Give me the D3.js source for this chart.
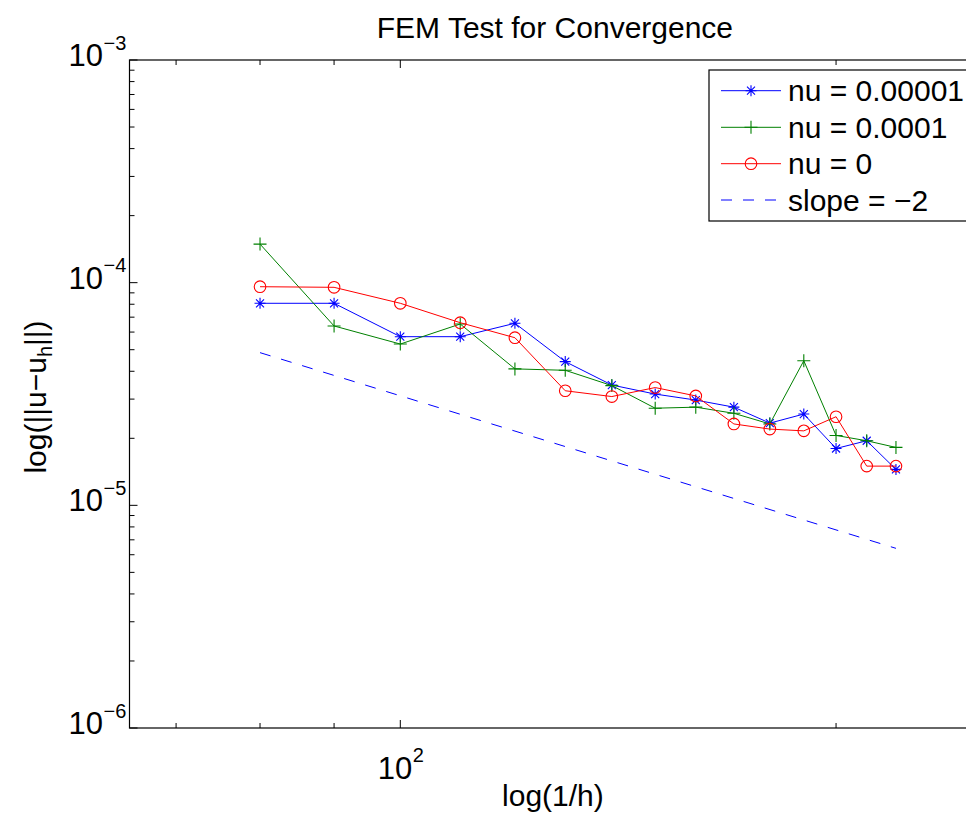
<!DOCTYPE html>
<html>
<head>
<meta charset="utf-8">
<script src="https://cdn.jsdelivr.net/npm/d3@7"></script>
<style>
  html, body { margin: 0; padding: 0; background: #fff; overflow: hidden; }
  svg { display: block; }
  text { font-family: "Liberation Sans", Arial, Helvetica, sans-serif; fill: #000; }
</style>
</head>
<body>
<svg id="chart" width="966" height="815"></svg>
<script>
// ---- data ----
const hInv = [80, 90, 100, 110, 120, 130, 140, 150, 160, 170, 180, 190, 200, 210, 220];
const errNu1e5 = [8.08e-5, 8.08e-5, 5.72e-5, 5.72e-5, 6.57e-5, 4.42e-5, 3.47e-5, 3.16e-5, 2.97e-5, 2.76e-5, 2.34e-5, 2.57e-5, 1.80e-5, 1.95e-5, 1.45e-5];
const errNu1e4 = [1.49e-4, 6.39e-5, 5.30e-5, 6.52e-5, 4.10e-5, 4.04e-5, 3.45e-5, 2.73e-5, 2.76e-5, 2.59e-5, 2.32e-5, 4.46e-5, 2.06e-5, 1.95e-5, 1.82e-5];
const errNu0   = [9.59e-5, 9.53e-5, 8.08e-5, 6.61e-5, 5.66e-5, 3.27e-5, 3.08e-5, 3.38e-5, 3.10e-5, 2.32e-5, 2.20e-5, 2.16e-5, 2.50e-5, 1.50e-5, 1.50e-5];
const slopeX = [80, 220];
const slopeY = [4.85e-5, 6.41e-6];
const seriesNames = ["nu = 0.00001", "nu = 0.0001", "nu = 0", "slope = \u22122"];
const seriesColors = ["#0000ff", "#008000", "#ff0000", "#0000ff"];
const seriesMarkers = ["star", "plus", "circle", "none"];
const xDomain = [65, 250];
const yDomain = [1e-6, 1e-3];
const xMajorTicks = [100];
const xMinorTicks = [70, 80, 90, 200];
const yMajorExp = [-3, -4, -5, -6];
const titleText = "FEM Test for Convergence";
const xLabelText = "log(1/h)";

// ---- layout ----
const svg = d3.select("#chart");
const L = 129.5, T = 60, B = 728;
const pxPerDecade = 1447.5;
const R = L + pxPerDecade * Math.log10(xDomain[1] / xDomain[0]);
const x = d3.scaleLog().domain(xDomain).range([L, R]);
const y = d3.scaleLog().domain(yDomain).range([B, T]);
const FS = 30, TFS = 31, SFS = 20, SX = 1.0;

function stext(g, px, py, anchor, size, rot) {
  const t = g.append("text")
    .attr("transform", `translate(${px},${py})` + (rot ? ` rotate(${rot})` : "") + ` scale(${SX},1)`)
    .attr("text-anchor", anchor)
    .style("font-size", size + "px");
  return t;
}

const data = [errNu1e5, errNu1e4, errNu0].map((vals, i) =>
  hInv.map((h, j) => ({ x: h, y: vals[j] })));
const slopeData = slopeX.map((h, j) => ({ x: h, y: slopeY[j] }));

svg.append("defs").append("clipPath").attr("id", "clip")
  .append("rect").attr("x", L).attr("y", T).attr("width", R - L).attr("height", B - T);

// ---- axes box ----
const axG = svg.append("g");
axG.append("rect").attr("x", L).attr("y", T).attr("width", R - L).attr("height", B - T)
  .attr("fill", "none").attr("stroke", "#000").attr("stroke-width", 1.2);

const xTickG = axG.append("g").attr("stroke", "#000").attr("stroke-width", 1);
xMajorTicks.forEach(v => {
  xTickG.append("line").attr("x1", x(v)).attr("x2", x(v)).attr("y1", B).attr("y2", B - 8);
  xTickG.append("line").attr("x1", x(v)).attr("x2", x(v)).attr("y1", T).attr("y2", T + 8);
});
xMinorTicks.forEach(v => {
  xTickG.append("line").attr("x1", x(v)).attr("x2", x(v)).attr("y1", B).attr("y2", B - 5);
  xTickG.append("line").attr("x1", x(v)).attr("x2", x(v)).attr("y1", T).attr("y2", T + 5);
});
const yTickG = axG.append("g").attr("stroke", "#000").attr("stroke-width", 1);
yMajorExp.forEach(e => {
  const v = Math.pow(10, e);
  yTickG.append("line").attr("x1", L).attr("x2", L + 8).attr("y1", y(v)).attr("y2", y(v));
  yTickG.append("line").attr("x1", R).attr("x2", R - 8).attr("y1", y(v)).attr("y2", y(v));
  if (e < -3) {
    for (let k = 2; k <= 9; k++) {
      const vv = k * v;
      yTickG.append("line").attr("x1", L).attr("x2", L + 5).attr("y1", y(vv)).attr("y2", y(vv));
      yTickG.append("line").attr("x1", R).attr("x2", R - 5).attr("y1", y(vv)).attr("y2", y(vv));
    }
  }
});

// y tick labels
yMajorExp.forEach(e => {
  const yy = y(Math.pow(10, e));
  stext(svg, 103, yy + 6, "end", TFS).text("10");
  stext(svg, 103.5, yy - 10.5, "start", SFS).text("\u2212" + Math.abs(e));
});
// x tick labels
xMajorTicks.forEach(v => {
  const e = Math.round(Math.log10(v));
  stext(svg, x(v) + 12, 779, "end", TFS).text("10");
  stext(svg, x(v) + 12.5, 762, "start", SFS).text(String(e));
});

// title and labels
stext(svg, (L + R) / 2 + 2, 38, "middle", FS).text(titleText);
stext(svg, (L + R) / 2, 806, "middle", FS).text(xLabelText);
const yl = stext(svg, 46, (T + B) / 2 + 3, "middle", FS, -90);
yl.append("tspan").text("log(||u\u2212u");
yl.append("tspan").attr("dy", 6).style("font-size", SFS + "px").text("h");
yl.append("tspan").attr("dy", -6).text("||)");

// ---- series ----
const plotG = svg.append("g").attr("clip-path", "url(#clip)");
const line = d3.line().x(d => x(d.x)).y(d => y(d.y));

function drawMarker(g, type, cx, cy, color) {
  if (type === "star") {
    const a = 5.5, b = 4;
    g.append("path").attr("d",
      `M${cx - a},${cy}L${cx + a},${cy}M${cx},${cy - a}L${cx},${cy + a}` +
      `M${cx - b},${cy - b}L${cx + b},${cy + b}M${cx - b},${cy + b}L${cx + b},${cy - b}`)
      .attr("stroke", color).attr("stroke-width", 1.1).attr("fill", "none");
  } else if (type === "plus") {
    const a = 6.5;
    g.append("path").attr("d",
      `M${cx - a},${cy}L${cx + a},${cy}M${cx},${cy - a}L${cx},${cy + a}`)
      .attr("stroke", color).attr("stroke-width", 1.1).attr("fill", "none");
  } else if (type === "circle") {
    g.append("circle").attr("cx", cx).attr("cy", cy).attr("r", 5.8)
      .attr("stroke", color).attr("stroke-width", 1.1).attr("fill", "none");
  }
}

plotG.append("path").datum(slopeData).attr("d", line)
  .attr("fill", "none").attr("stroke", seriesColors[3]).attr("stroke-width", 1)
  .attr("stroke-dasharray", "11,11");

data.forEach((pts, i) => {
  plotG.append("path").datum(pts).attr("d", line)
    .attr("fill", "none").attr("stroke", seriesColors[i]).attr("stroke-width", 1);
  const mg = plotG.append("g");
  pts.forEach(p => drawMarker(mg, seriesMarkers[i], x(p.x), y(p.y), seriesColors[i]));
});

// ---- legend ----
const lg = svg.append("g");
const lgX = 709, lgY = 70, lgW = 270, lgH = 151;
lg.append("rect").attr("x", lgX).attr("y", lgY).attr("width", lgW).attr("height", lgH)
  .attr("fill", "#fff").attr("stroke", "#000").attr("stroke-width", 1.2);
const rowY = [90.7, 127.3, 163.7, 200];
seriesNames.forEach((name, i) => {
  const ry = rowY[i];
  const ln = lg.append("line").attr("x1", 721).attr("x2", 781).attr("y1", ry).attr("y2", ry)
    .attr("stroke", seriesColors[i]).attr("stroke-width", 1);
  if (i === 3) ln.attr("x2", 779).attr("stroke-dasharray", "11,11");
  drawMarker(lg, seriesMarkers[i], 751, ry, seriesColors[i]);
  stext(lg, 788, ry + 10.5, "start", FS).text(name);
});
</script>
</body>
</html>
